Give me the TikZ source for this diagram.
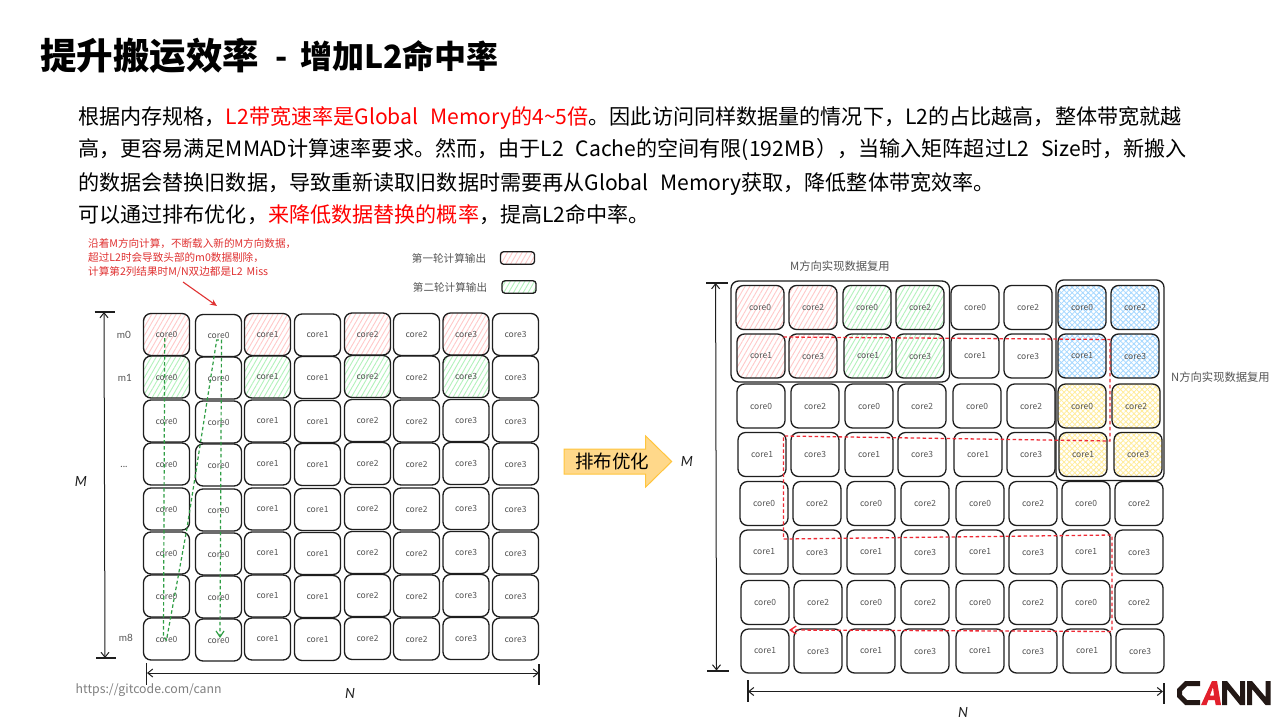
\documentclass[tikz,border=0pt]{standalone}
\usepackage{fontspec}
\setmainfont{Noto Sans CJK SC}
\newfontfamily\handfont[ItalicFont=Lato Italic]{Lato}
\usetikzlibrary{arrows.meta,patterns.meta,calc}
\definecolor{ink}{HTML}{1E1E1E}
\definecolor{celltext}{HTML}{555555}
\definecolor{exred}{HTML}{E03131}
\definecolor{exgreen}{HTML}{2F9E44}
\definecolor{hred}{HTML}{FFC9C9}
\definecolor{hgreen}{HTML}{B2F2BB}
\definecolor{hblue}{HTML}{A5D8FF}
\definecolor{hyellow}{HTML}{FFEC99}
\definecolor{arrowfill}{HTML}{FFD88A}
\definecolor{arrowline}{HTML}{FFC53D}
\definecolor{logored}{HTML}{E2202C}
\definecolor{logoblack}{HTML}{231815}
\definecolor{pathred}{HTML}{EE2A35}
\tikzset{
  cellL/.style={draw=ink,line width=1.3pt,rounded corners=7.5pt,minimum width=46pt,minimum height=42pt,inner sep=0pt,outer sep=0pt,font=\fontsize{8.5}{10}\selectfont\color{celltext}},
  cellR/.style={cellL,minimum width=48pt,minimum height=44pt},
  plainC/.style={},
  hatchR/.style={pattern={Lines[angle=60,distance=4.2pt,line width=.9pt]},pattern color=hred},
  hatchG/.style={pattern={Lines[angle=60,distance=4.2pt,line width=.9pt]},pattern color=hgreen},
  crossB/.style={pattern={Lines[angle=45,distance=3.8pt,line width=.85pt]},pattern color=hblue,preaction={pattern={Lines[angle=-45,distance=3.8pt,line width=.85pt]},pattern color=hblue}},
  crossY/.style={pattern={Lines[angle=45,distance=3.8pt,line width=.85pt]},pattern color=hyellow,preaction={pattern={Lines[angle=-45,distance=3.8pt,line width=.85pt]},pattern color=hyellow}},
  group box/.style={draw=ink,line width=1.3pt,rounded corners=7.5pt},
  dim/.style={draw=ink,line width=1pt,{Straight Barb[length=5pt,width=8pt]}-{Straight Barb[length=5pt,width=8pt]}},
  cap line/.style={draw=ink,line width=1.1pt},
  green path/.style={draw=exgreen,line width=1.2pt,dash pattern=on 3.5pt off 2.5pt,-{Straight Barb[length=6pt,width=8pt]}},
  red path/.style={draw=pathred,line width=1.3pt,dash pattern=on 3.5pt off 2.5pt,-{Straight Barb[length=6pt,width=8pt]}},
  red note/.style={anchor=base west,inner sep=0pt,text=exred,font=\fontsize{10.6}{12}\selectfont},
  gray note/.style={inner sep=0pt,text=celltext,font=\fontsize{11.3}{13}\selectfont},
  legend note/.style={inner sep=0pt,text=celltext,font=\fontsize{10.6}{12}\selectfont},
  row label/.style={inner sep=0pt,text=celltext,font=\handfont\fontsize{10}{12}\selectfont},
  axis label/.style={inner sep=0pt,text=ink,font=\handfont\itshape\fontsize{14}{16}\selectfont},
  body line/.style={anchor=base west,inner sep=0pt,text=black,font=\fontsize{21.1}{24}\selectfont},
}
\newcommand{\hot}[1]{\textcolor{red}{#1}}
\begin{document}
\begin{tikzpicture}[x=1pt,y=-1pt]
\useasboundingbox (0,0) rectangle (1281,720);
\fill[white] (0,0) rectangle (1281,720);

% title and paragraph
\node[anchor=base west,inner sep=0pt,font=\bfseries\fontsize{36.5}{40}\selectfont] (title) at (40,69) {提升搬运效率};
\node[anchor=base west,inner sep=0pt,font=\bfseries\fontsize{32}{36}\selectfont] (dash) at (275,68) {-};
\node[anchor=base west,inner sep=0pt,font=\bfseries\fontsize{32}{36}\selectfont] (title2) at (300,68) {增加L2命中率};
\node[body line] (t1) at (78,124.5) {根据内存规格，\hot{L2带宽速率是Global\hspace{12pt}Memory的4\textasciitilde5倍}。因此访问同样数据量的情况下，L2的占比越高，整体带宽就越};
\node[body line] (t2) at (78,156) {高，更容易满足MMAD计算速率要求。然而，由于L2\hspace{12pt}Cache的空间有限(192MB\hspace{1pt}），当输入矩阵超过L2\hspace{12pt}Size时，新搬入};
\node[body line] (t3) at (78,190) {的数据会替换旧数据，导致重新读取旧数据时需要再从Global\hspace{12pt}Memory获取，降低整体带宽效率。};
\node[body line] (t4) at (78,222) {可以通过排布优化，\hot{来降低数据替换的概率}，提高L2命中率。};

% left grid
\foreach \r/\y/\sa/\sb in {0/334.5/hatchR/plainC,1/377/hatchG/plainC,2/421/plainC/plainC,3/464/plainC/plainC,4/509/plainC/plainC,5/553/plainC/plainC,6/596/plainC/plainC,7/639/plainC/plainC}{
  \node[cellL,\sa] (L\r0) at (166.5,\y) {core0};
  \node[cellL,\sb] (L\r1) at (218.5,\y+1) {core0};
  \node[cellL,\sa] (L\r2) at (267.5,\y) {core1};
  \node[cellL,\sb] (L\r3) at (317.5,\y+.5) {core1};
  \node[cellL,\sa] (L\r4) at (367.5,\y-.5) {core2};
  \node[cellL,\sb] (L\r5) at (416.5,\y) {core2};
  \node[cellL,\sa] (L\r6) at (466,\y-.5) {core3};
  \node[cellL,\sb] (L\r7) at (515.5,\y) {core3};
}

% right grid
\foreach \r/\y/\t/\ca/\cb/\cc/\cd/\ce/\cf/\cg/\ch/\sa/\sb/\sc in {
  0/307.5/0/760/813/867/920/975/1028/1082/1135/hatchR/hatchG/crossB,
  1/356/1/761/813/868/920/975/1028/1082/1135/hatchR/hatchG/crossB,
  2/406/0/761/815/869/922/977/1031/1082/1136/plainC/plainC/crossY,
  3/454.5/1/762/815/869/922/978/1031/1083/1138/plainC/plainC/crossY,
  4/503.5/0/764/817/871/925/980/1033/1086/1139/plainC/plainC/plainC,
  5/552/1/764/817/871/925/980/1033/1086/1139/plainC/plainC/plainC,
  6/602.5/0/765/818/871/925/980/1033/1086/1139/plainC/plainC/plainC,
  7/651/1/765/818/871/925/980/1033/1087/1140/plainC/plainC/plainC}{
  \pgfmathtruncatemacro{\u}{\t+2}
  \node[cellR,\sa] (R\r0) at (\ca,\y) {core\t};
  \node[cellR,\sa] (R\r1) at (\cb,\y) {core\u};
  \node[cellR,\sb] (R\r2) at (\cc,\y) {core\t};
  \node[cellR,\sb] (R\r3) at (\cd,\y) {core\u};
  \node[cellR] (R\r4) at (\ce,\y) {core\t};
  \node[cellR] (R\r5) at (\cf,\y) {core\u};
  \node[cellR,\sc] (R\r6) at (\cg,\y) {core\t};
  \node[cellR,\sc] (R\r7) at (\ch,\y) {core\u};
}

% group outlines
\draw[group box] (731,281) rectangle (949.5,382);
\draw[group box] (1056,280) rectangle (1164,480.5);
\node[gray note,anchor=west] (mreuse) at (790,266) {M方向实现数据复用};
\node[gray note,anchor=west] (nreuse) at (1171,377) {N方向实现数据复用};

% left dimension marks
\coordinate (lmt) at (104,312); \coordinate (lmb) at (105,658);
\coordinate (lnl) at (147,673); \coordinate (lnr) at (539,673);
\draw[dim] (lmt) -- (lmb);
\draw[cap line] (94.5,312) -- (115,312);
\draw[cap line] (96,658) -- (115.5,658);
\draw[dim] (lnl) -- (lnr);
\draw[cap line] (146.7,663) -- (146.7,685);
\draw[cap line] (539,664) -- (539,685);
\node[axis label] (lM) at (81,481) {M};
\node[axis label] (lN) at (350,693) {N};
\node[row label] (m0) at (124,335) {m0};
\node[row label] (m1) at (125,378) {m1};
\node[row label] (mdots) at (124,467) {...};
\node[row label] (m8) at (126,638) {m8};

% right dimension marks
\coordinate (rmt) at (715.6,283); \coordinate (rmb) at (716.5,670.5);
\coordinate (rnl) at (748,691.5); \coordinate (rnr) at (1163,691.5);
\draw[dim] (rmt) -- (rmb);
\draw[cap line] (706,283) -- (728,283);
\draw[cap line] (707,671) -- (729,671);
\draw[dim] (rnl) -- (rnr);
\draw[cap line] (748,680) -- (748,702);
\draw[cap line] (1164,683) -- (1164,704);
\node[axis label] (rM) at (687,461) {M};
\node[axis label] (rN) at (963,712) {N};

% legend
\node[legend note] (leg1) at (449,258) {第一轮计算输出};
\node[legend note] (leg2) at (450,287) {第二轮计算输出};
\node[cellL,hatchR,minimum width=34pt,minimum height=12.5pt,rounded corners=3pt] (legbox1) at (517.5,258) {};
\node[cellL,hatchG,minimum width=34pt,minimum height=12.5pt,rounded corners=3pt] (legbox2) at (519,287) {};

% red note and arrow
\node[red note] (n1) at (88,247) {沿着M方向计算，不断载入新的M方向数据，};
\node[red note] (n2) at (88,261) {超过L2时会导致头部的m0数据剔除，};
\node[red note] (n3) at (88,275) {计算第2列结果时M/N双边都是L2\hspace{4pt}Miss};
\coordinate (na) at (183,282); \coordinate (nb) at (217,306);
\draw[draw=exred,line width=1.1pt,-{Stealth[length=7pt,width=6pt]}] (na) -- (nb);

% green dashed route
\coordinate (g0) at (164.7,338); \coordinate (g1) at (163.5,637); \coordinate (g2) at (166.5,640);
\coordinate (g3) at (186.7,530); \coordinate (g4) at (216.7,340); \coordinate (g5) at (221.5,340);
\coordinate (g6) at (220,638);
\draw[green path] (g0) -- (g1) -- (g2) -- (g3) -- (g4) -- (g5) -- (g6);

% red dashed route
\coordinate (p0) at (783.4,337); \coordinate (p1) at (1110,339.5); \coordinate (p2) at (1110,441);
\coordinate (p3) at (783.4,436); \coordinate (p4) at (783.4,539); \coordinate (p5) at (1112,535);
\coordinate (p6) at (1112,631.5); \coordinate (p7) at (789,630);
\draw[red path] (p0) -- (p1) -- (p2) -- (p3) -- (p4) -- (p5) -- (p6) -- (p7);

% block arrow
\fill[arrowfill] (564,449) -- (645.7,449) -- (645.7,436) -- (671.7,461.5) -- (645.7,487) -- (645.7,474) -- (564,474) -- cycle;
\draw[arrowline,line width=1pt] (564,449) -- (645.7,449) -- (645.7,436) -- (671.7,461.5) -- (645.7,487) -- (645.7,474) -- (564,474) -- cycle;
\node[inner sep=0pt,font=\fontsize{18.5}{20}\selectfont,text=black] (opt) at (612,461) {排布优化};

% footer
\node[anchor=west,inner sep=0pt,text=gray,font=\fontsize{12.3}{14}\selectfont] (url) at (75.5,690.5) {https://gitcode.com/cann};

% logo
\fill[logoblack] (1200,681) -- (1185,681) -- (1177,689) -- (1177,697) -- (1185,705) -- (1200,705) -- (1200,700) -- (1187,700) -- (1182,695) -- (1182,691) -- (1187,686) -- (1200,686) -- cycle;
\fill[logored] (1201,705) -- (1212,681) -- (1217,681) -- (1221,705) -- (1215.7,705) -- (1214.8,700) -- (1207,700) -- (1209,695.5) -- (1214,695.5) -- (1213,687) -- (1206.5,705) -- cycle;
\fill[logoblack] (1222,705) -- (1222,681) -- (1227,681) -- (1240,697) -- (1240,681) -- (1245,681) -- (1245,705) -- (1240,705) -- (1227,689) -- (1227,705) -- cycle;
\fill[logoblack] (1247,705) -- (1247,681) -- (1252,681) -- (1265.5,697) -- (1265.5,681) -- (1270.7,681) -- (1270.7,705) -- (1265.5,705) -- (1252,689) -- (1252,705) -- cycle;
\end{tikzpicture}
\end{document}
